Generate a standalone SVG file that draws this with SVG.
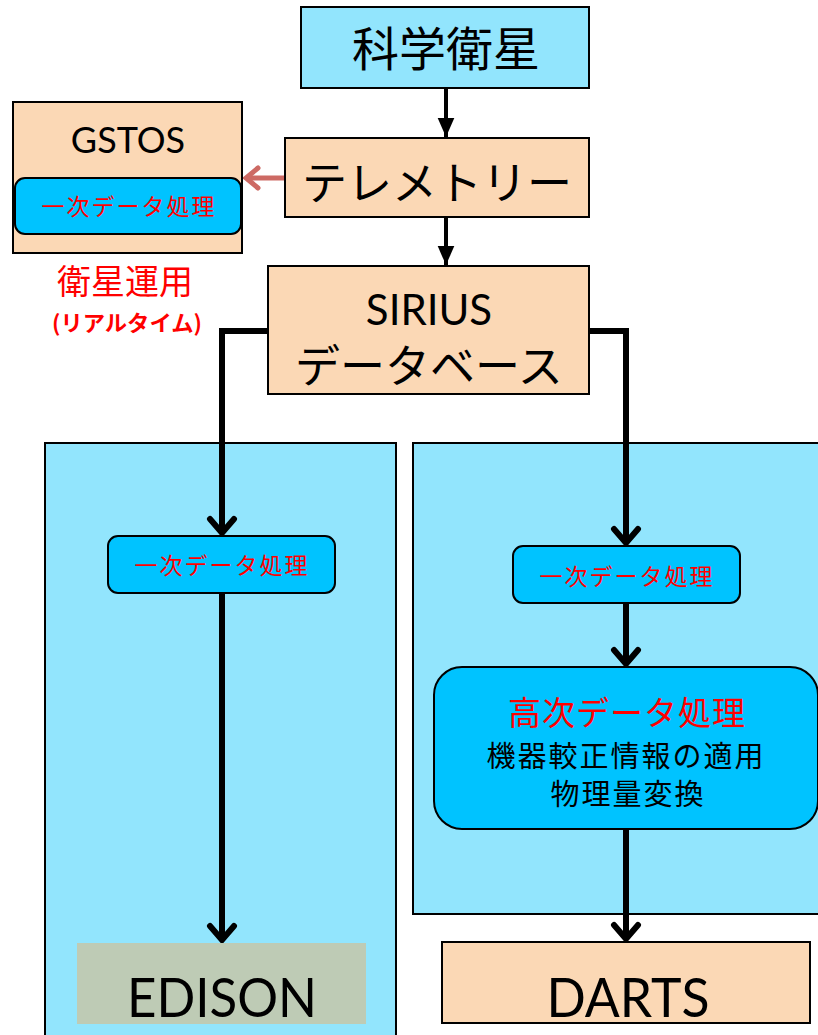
<svg xmlns="http://www.w3.org/2000/svg" width="818" height="1035" viewBox="0 0 818 1035">
<defs>
<style>
.cyan{fill:#92E5FD;stroke:#000;stroke-width:2}
.peach{fill:#FBD8B5;stroke:#000;stroke-width:2}
.inner{fill:#00C3FF;stroke:#000;stroke-width:2}
.jp{font-family:"Noto Sans CJK JP","Noto Sans CJK SC",sans-serif;text-anchor:middle}
.lat{font-family:Lato,"Open Sans",sans-serif;text-anchor:middle}
.red{fill:#FF0000}
.blk{fill:#000}
.conn{fill:none;stroke:#000;stroke-width:6}
.thin{fill:none;stroke:#000;stroke-width:4}
</style>
<marker id="tri" markerUnits="userSpaceOnUse" markerWidth="20" markerHeight="20" viewBox="-17 -8 18 16" refX="0" refY="0" orient="auto">
<path d="M-17,-7.5 L0,0 L-17,7.5 Z" fill="#000"/>
</marker>
<marker id="chev" markerUnits="userSpaceOnUse" markerWidth="40" markerHeight="40" viewBox="-20 -20 24 40" refX="0" refY="0" orient="auto">
<path d="M-14,-12 L0,0 L-14,12" fill="none" stroke="#000" stroke-width="6" stroke-linecap="round" stroke-linejoin="miter"/>
</marker>
<marker id="chevred" markerUnits="userSpaceOnUse" markerWidth="40" markerHeight="40" viewBox="-20 -20 24 40" refX="0" refY="0" orient="auto">
<path d="M-12,-10 L0,0 L-12,10" fill="none" stroke="#CD6A64" stroke-width="5" stroke-linecap="round"/>
</marker>
</defs>
<rect width="818" height="1035" fill="#FFFFFF"/>

<g id="containers">
<rect id="left-area" class="cyan" x="45" y="443" width="351" height="600"/>
<rect id="right-area" class="cyan" x="413" y="443" width="410" height="471"/>
</g>

<g id="connectors">
<line x1="446" y1="88" x2="446" y2="137" class="thin" marker-end="url(#tri)"/>
<line x1="446" y1="217" x2="446" y2="265" class="thin" marker-end="url(#tri)"/>
<line x1="285" y1="178" x2="246" y2="178" stroke="#CD6A64" stroke-width="5" marker-end="url(#chevred)"/>
<path d="M268,331 H222 V533" class="conn" marker-end="url(#chev)"/>
<line x1="222" y1="593" x2="222" y2="940" class="conn" marker-end="url(#chev)"/>
<path d="M589,331 H626 V543" class="conn" marker-end="url(#chev)"/>
<line x1="626" y1="603" x2="626" y2="664" class="conn" marker-end="url(#chev)"/>
<line x1="626" y1="829" x2="626" y2="939" class="conn" marker-end="url(#chev)"/>
</g>

<g id="satellite">
<rect class="cyan" x="301" y="7" width="288" height="81"/>
<text class="jp blk" x="446" y="66" font-size="47">科学衛星</text>
</g>

<g id="telemetry">
<rect class="peach" x="285" y="138" width="304" height="79"/>
<text class="jp blk" x="437" y="200" font-size="45">テレメトリー</text>
</g>

<g id="gstos">
<rect class="peach" x="13" y="102" width="229" height="151"/>
<text class="lat blk" x="128" y="153" font-size="36">GSTOS</text>
<rect class="inner" x="15" y="178" width="226" height="56" rx="10"/>
<text class="jp red" x="129" y="215" font-size="23" letter-spacing="2">一次データ処理</text>
</g>

<g id="ops-label">
<text class="jp red" x="125" y="294" font-size="34">衛星運用</text>
<text class="jp red" x="127" y="331" font-size="22" font-weight="bold" textLength="150" lengthAdjust="spacingAndGlyphs">(リアルタイム)</text>
</g>

<g id="sirius">
<rect class="peach" x="268" y="266" width="321" height="128"/>
<text class="lat blk" x="429" y="325" font-size="42">SIRIUS</text>
<text class="jp blk" x="429" y="383" font-size="45">データベース</text>
</g>

<g id="left-primary">
<rect class="inner" x="108" y="536" width="227" height="57" rx="10"/>
<text class="jp red" x="222" y="574" font-size="23" letter-spacing="2">一次データ処理</text>
</g>

<g id="right-primary">
<rect class="inner" x="513" y="546" width="227" height="57" rx="10"/>
<text class="jp red" x="627" y="585" font-size="23" letter-spacing="2">一次データ処理</text>
</g>

<g id="higher">
<rect class="inner" x="434" y="667" width="384" height="162" rx="28"/>
<text class="jp red" x="627" y="725" font-size="33" letter-spacing="1">高次データ処理</text>
<text class="jp blk" x="626" y="767" font-size="29" letter-spacing="2">機器較正情報の適用</text>
<text class="jp blk" x="628" y="805" font-size="29" letter-spacing="2">物理量変換</text>
</g>

<g id="edison">
<rect x="77" y="943" width="289" height="81" fill="#BECBB5"/>
<text class="lat blk" x="222" y="1017" font-size="55" textLength="190" lengthAdjust="spacingAndGlyphs">EDISON</text>
</g>

<g id="darts">
<rect class="peach" x="442" y="942" width="368" height="81"/>
<text class="lat blk" x="628" y="1017" font-size="55" textLength="163" lengthAdjust="spacingAndGlyphs">DARTS</text>
</g>
</svg>
